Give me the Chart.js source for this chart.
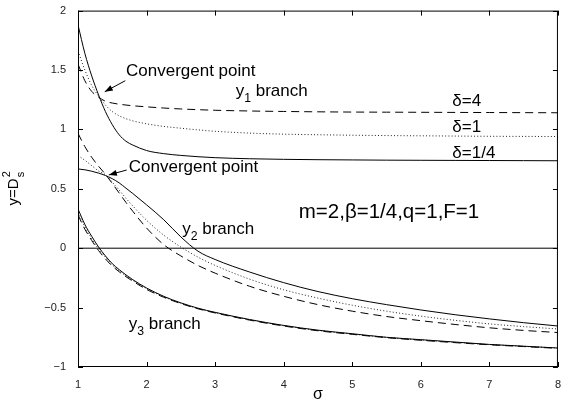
<!DOCTYPE html>
<html>
<head>
<meta charset="utf-8">
<script src="https://cdn.jsdelivr.net/npm/chart.js@4.4.1/dist/chart.umd.min.js"></script>
<style>
  html, body { margin: 0; padding: 0; background: #fff; }
  #wrap { width: 564px; height: 411px; }
</style>
</head>
<body>
<div id="wrap"><canvas id="c" width="564" height="411"></canvas></div>
<script>
// σ grid shared by every curve
const sigma = [1, 1.1, 1.2, 1.3, 1.4, 1.5, 1.6, 1.7, 1.8, 2, 2.25, 2.5, 2.75, 3, 3.5, 4, 4.5, 5, 5.5, 6, 6.5, 7, 7.5, 8];

// y1 branch
const y1_d025 = [1.88, 1.64, 1.45, 1.29, 1.15, 1.04, 0.955, 0.90, 0.868, 0.822, 0.796, 0.781, 0.770, 0.762, 0.753, 0.748, 0.745, 0.743, 0.741, 0.740, 0.739, 0.738, 0.737, 0.736];
const y1_d1   = [1.66, 1.50, 1.37, 1.28, 1.205, 1.15, 1.115, 1.09, 1.072, 1.047, 1.025, 1.01, 0.996, 0.984, 0.969, 0.960, 0.955, 0.951, 0.948, 0.946, 0.944, 0.942, 0.941, 0.940];
const y1_d4   = [1.55, 1.41, 1.32, 1.272, 1.237, 1.222, 1.212, 1.205, 1.199, 1.19, 1.18, 1.172, 1.166, 1.161, 1.155, 1.151, 1.148, 1.146, 1.145, 1.144, 1.143, 1.142, 1.141, 1.140];

// y2 branch
const y2_d025 = [0.667, 0.66, 0.648, 0.632, 0.612, 0.585, 0.55, 0.505, 0.46, 0.365, 0.24, 0.095, -0.025, -0.095, -0.20, -0.29, -0.365, -0.425, -0.475, -0.52, -0.56, -0.595, -0.627, -0.655];
const y2_d1   = [0.78, 0.74, 0.695, 0.65, 0.618, 0.555, 0.49, 0.42, 0.355, 0.235, 0.11, 0.01, -0.075, -0.145, -0.26, -0.35, -0.42, -0.48, -0.53, -0.572, -0.607, -0.637, -0.66, -0.68];
const y2_d4   = [0.967, 0.855, 0.765, 0.69, 0.622, 0.545, 0.465, 0.385, 0.31, 0.17, 0.03, -0.065, -0.145, -0.21, -0.32, -0.405, -0.475, -0.53, -0.575, -0.61, -0.642, -0.67, -0.692, -0.71];

// y3 branch
const y3_d025 = [0.33, 0.20, 0.10, 0.01, -0.065, -0.13, -0.18, -0.225, -0.265, -0.335, -0.405, -0.46, -0.505, -0.54, -0.60, -0.65, -0.69, -0.72, -0.75, -0.77, -0.79, -0.81, -0.825, -0.84];
const y3_d1   = [0.30, 0.18, 0.08, -0.005, -0.075, -0.14, -0.19, -0.233, -0.272, -0.341, -0.409, -0.463, -0.507, -0.542, -0.602, -0.652, -0.692, -0.722, -0.751, -0.772, -0.792, -0.811, -0.826, -0.841];
const y3_d4   = [0.28, 0.16, 0.065, -0.02, -0.09, -0.15, -0.198, -0.24, -0.278, -0.347, -0.413, -0.466, -0.51, -0.545, -0.605, -0.655, -0.695, -0.725, -0.753, -0.775, -0.795, -0.813, -0.828, -0.843];

// zero reference line
const zeroX = [1, 8];
const zeroY = [0, 0];

// axis ticks
const xTicks = [1, 2, 3, 4, 5, 6, 7, 8];
const yTicks = [-1, -0.5, 0, 0.5, 1, 1.5, 2];

const pts = (xs, ys) => xs.map((x, i) => ({ x: x, y: ys[i] }));

const SOLID = [], DASH = [8, 5], DOT = [1, 2.2];
function series(ys, dash, color) {
  return {
    data: pts(sigma, ys),
    borderColor: color || '#000',
    borderWidth: 1,
    borderDash: dash,
    pointRadius: 0,
    cubicInterpolationMode: 'monotone',
    fill: false
  };
}

const datasets = [
  { data: pts(zeroX, zeroY), borderColor: '#000', borderWidth: 1, pointRadius: 0, fill: false },
  series(y1_d025, SOLID), series(y1_d1, DOT, '#222'), series(y1_d4, DASH),
  series(y2_d025, SOLID), series(y2_d1, DOT, '#222'), series(y2_d4, DASH),
  series(y3_d025, SOLID), series(y3_d1, DOT, '#222'), series(y3_d4, DASH)
];

const FONT = '"Liberation Sans", Arial, Helvetica, sans-serif';

// text with optional subscript / superscript runs
function richText(ctx, parts, px, py, size) {
  let x = px;
  ctx.textBaseline = 'middle';
  ctx.textAlign = 'left';
  for (const p of parts) {
    const s = p.sub || p.sup ? size * 0.72 : size;
    ctx.font = s + 'px ' + FONT;
    const dy = p.sub ? size * 0.42 : (p.sup ? -size * 0.42 : 0);
    ctx.fillText(p.t, x, py + dy);
    x += ctx.measureText(p.t).width;
  }
}

function arrow(ctx, x0, y0, x1, y1) {
  ctx.beginPath();
  ctx.moveTo(x0, y0);
  ctx.lineTo(x1, y1);
  ctx.stroke();
  const a = Math.atan2(y1 - y0, x1 - x0);
  const L = 8, W = 3;
  ctx.beginPath();
  ctx.moveTo(x1, y1);
  ctx.lineTo(x1 - L * Math.cos(a) + W * Math.sin(a), y1 - L * Math.sin(a) - W * Math.cos(a));
  ctx.lineTo(x1 - L * Math.cos(a) - W * Math.sin(a), y1 - L * Math.sin(a) + W * Math.cos(a));
  ctx.closePath();
  ctx.fill();
}

const decor = {
  id: 'decor',
  afterDatasetsDraw(chart) {
    const { ctx, chartArea: a, scales: { x, y } } = chart;
    ctx.save();
    ctx.strokeStyle = '#000';
    ctx.fillStyle = '#000';
    ctx.lineWidth = 1;

    // frame
    ctx.strokeRect(a.left + 0.5, a.top + 0.5, a.right - a.left - 1, a.bottom - a.top - 1);

    // inward ticks on all four sides
    const T = 5;
    ctx.beginPath();
    for (const v of xTicks) {
      const px = Math.round(x.getPixelForValue(v)) + 0.5;
      ctx.moveTo(px, a.bottom); ctx.lineTo(px, a.bottom - T);
      ctx.moveTo(px, a.top); ctx.lineTo(px, a.top + T);
    }
    for (const v of yTicks) {
      const py = Math.round(y.getPixelForValue(v)) + 0.5;
      ctx.moveTo(a.left, py); ctx.lineTo(a.left + T, py);
      ctx.moveTo(a.right, py); ctx.lineTo(a.right - T, py);
    }
    ctx.stroke();

    const X = v => x.getPixelForValue(v), Y = v => y.getPixelForValue(v);
    const fs = 17;

    // annotations
    richText(ctx, [{ t: 'Convergent point' }], X(1.70), Y(1.49), fs);
    arrow(ctx, X(1.69), Y(1.41), X(1.39), Y(1.317));
    richText(ctx, [{ t: 'Convergent point' }], X(1.74), Y(0.683), fs);
    arrow(ctx, X(1.71), Y(0.658), X(1.45), Y(0.617));

    richText(ctx, [{ t: 'y' }, { t: '1', sub: true }, { t: ' branch' }], X(3.30), Y(1.317), fs);
    richText(ctx, [{ t: 'y' }, { t: '2', sub: true }, { t: ' branch' }], X(2.52), Y(0.158), fs);
    richText(ctx, [{ t: 'y' }, { t: '3', sub: true }, { t: ' branch' }], X(1.74), Y(-0.64), fs);

    richText(ctx, [{ t: 'δ=4' }], X(6.46), Y(1.233), fs);
    richText(ctx, [{ t: 'δ=1' }], X(6.46), Y(1.017), fs);
    richText(ctx, [{ t: 'δ=1/4' }], X(6.46), Y(0.80), fs);

    richText(ctx, [{ t: 'm=2,β=1/4,q=1,F=1' }], X(4.22), Y(0.30), 20.5);

    // axis titles
    ctx.textAlign = 'center';
    ctx.textBaseline = 'middle';
    ctx.font = '16px ' + FONT;
    ctx.fillText('σ', (a.left + a.right) / 2, 395);

    ctx.translate(14, (a.top + a.bottom) / 2);
    ctx.rotate(-Math.PI / 2);
    ctx.font = '15px ' + FONT;
    const w1 = ctx.measureText('y=D').width;
    ctx.font = '11px ' + FONT;
    const w2 = ctx.measureText('2').width;
    const x0 = -(w1 + w2) / 2;
    ctx.textAlign = 'left';
    ctx.font = '15px ' + FONT;
    ctx.fillText('y=D', x0, 0);
    ctx.font = '11px ' + FONT;
    ctx.fillText('2', x0 + w1 + 1, -7);
    ctx.fillText('s', x0 + w1 + 1, 7);
    ctx.restore();
  }
};

new Chart(document.getElementById('c'), {
  type: 'line',
  data: { datasets },
  options: {
    responsive: false,
    animation: false,
    events: [],
    layout: { padding: { top: 6, right: 3, left: 0, bottom: 0 } },
    plugins: { legend: { display: false }, tooltip: { enabled: false } },
    scales: {
      x: {
        type: 'linear', min: 1, max: 8,
        grid: { display: false }, border: { display: false },
        ticks: { stepSize: 1, padding: 3, color: '#222', font: { size: 11, family: FONT }, maxRotation: 0 },
        afterFit: s => { s.height = 44; }
      },
      y: {
        type: 'linear', min: -1, max: 2,
        grid: { display: false }, border: { display: false },
        ticks: {
          stepSize: 0.5, padding: 4, color: '#222', font: { size: 11, family: FONT },
          callback: v => String(v).replace('-', '\u2212')
        },
        afterFit: s => { s.width = 78; }
      }
    }
  },
  plugins: [decor]
});
</script>
</body>
</html>
